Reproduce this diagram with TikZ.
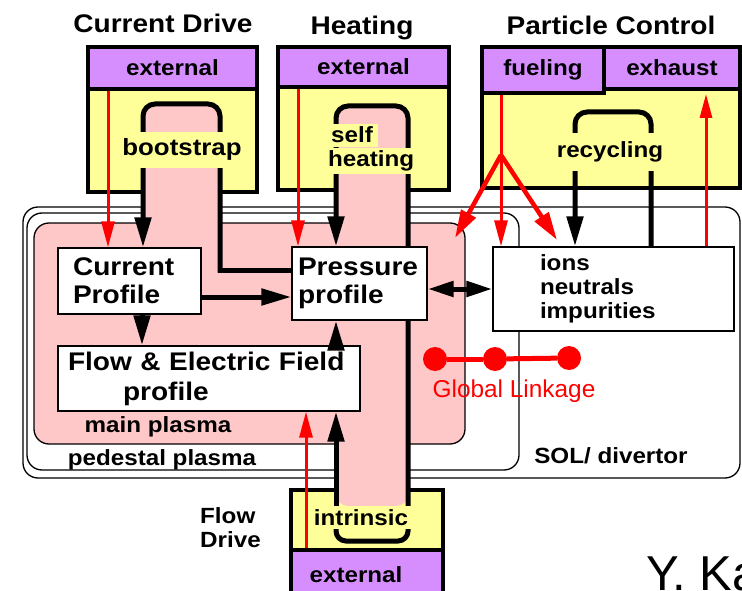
\documentclass[tikz,border=0pt]{standalone}
\usepackage{fontspec}
\setmainfont{Liberation Sans}
\newfontfamily\hbf{Liberation Sans}[FakeStretch=1.1]
\usetikzlibrary{arrows.meta}
\pgfdeclarelayer{back}\pgfdeclarelayer{chan}\pgfdeclarelayer{labs}
\pgfsetlayers{back,chan,labs,main}
\definecolor{cpurple}{RGB}{214,142,255}
\definecolor{cyellow}{RGB}{255,255,153}
\definecolor{cpink}{RGB}{255,200,200}
\definecolor{cred}{RGB}{255,0,0}
\newcommand\tfont{\hbf\bfseries\fontsize{25.5}{28}\selectfont}
\newcommand\lfont{\hbf\bfseries\fontsize{22}{24}\selectfont}
\begin{document}
\begin{tikzpicture}[x=1pt,y=-1pt,
  region/.style={draw, line width=1.3pt, rounded corners=15pt},
  ctrl/.style={draw, line width=3.5pt, fill=cyellow, rectangle, inner sep=0pt},
  ext/.style={draw, line width=3.5pt, fill=cpurple, rectangle, inner sep=0pt, font=\lfont},
  pbox/.style={draw, line width=1.3pt, fill=white, font=\tfont, align=left, rectangle},
  chan/.style={line width=5pt, draw=black},
  btip/.tip={Triangle[length=30pt,width=16pt]},
  rtip/.tip={Triangle[length=26pt,width=13pt]},
  rline/.style={draw=cred, line width=3pt},
  ylab/.style={fill=cyellow, font=\lfont, inner sep=2pt, text height=17pt, text depth=5pt},
  plain/.style={font=\lfont, inner sep=0pt}]
\useasboundingbox (0,0) rectangle (742,591);

% coordinates
\coordinate (xcdL) at (143,0);
\coordinate (xcdR) at (220,0);
\coordinate (xhL) at (336,0);
\coordinate (xhR) at (408,0);
\coordinate (xrL) at (575,0);
\coordinate (xrR) at (651,0);
\coordinate (xrd) at (108,0);
\coordinate (xrh) at (298,0);
\coordinate (xrb) at (306,0);
\coordinate (xfu) at (501,0);
\coordinate (xex) at (706,0);
\coordinate (xcf) at (142,0);
\coordinate (ycd) at (0,270);
\coordinate (ycp) at (0,297);
\coordinate (yio) at (0,289);
\coordinate (fork) at (501,155);
\coordinate (fuM) at (455,238);
\coordinate (fuS) at (557,240);
\coordinate (exT) at (706,94);

% content boxes
\node[pbox, text width=113pt, inner xsep=15pt, minimum height=66pt] (CP) at (129.5,281) {Current\\Profile};
\node[pbox, text width=123pt, inner xsep=6pt, minimum height=73pt] (PP) at (359.5,283.5) {Pressure\\profile};
\node[pbox, text width=282pt, inner xsep=10pt, minimum height=65pt,
      font=\hbf\bfseries\fontsize{25.5}{30}\selectfont] (FE) at (209,378.5) {Flow \& Electric Field\\\hspace*{55pt}profile};
\node[pbox, text width=147pt, inner xsep=47pt, minimum height=84pt, font=\lfont] (IO) at (613.5,289) {ions\\neutrals\\impurities};

% titles
\node[font=\tfont, anchor=base, inner sep=0pt] (tCD) at (163,33) {Current Drive};
\node[font=\tfont, anchor=base, inner sep=0pt] (tH) at (362,35) {Heating};
\node[font=\tfont, anchor=base, inner sep=0pt] (tPC) at (611,35) {Particle Control};

\begin{pgfonlayer}{back}
  \draw[region, fill=white] (23,207) rectangle (740,478);
  \draw[region, fill=white] (27,213) rectangle (519,470);
  \draw[region, fill=cpink] (34,223) rectangle (465,444);
  \node[ctrl, minimum width=169pt, minimum height=145pt] (cCD) at (172.5,119.5) {};
  \node[ext, minimum width=169pt, minimum height=42pt] (eCD) at (172.5,68) {external};
  \node[ctrl, minimum width=171pt, minimum height=143pt] (cH) at (363.5,118.5) {};
  \node[ext, minimum width=171pt, minimum height=40pt] (eH) at (363.5,67) {external};
  \node[ctrl, minimum width=258pt, minimum height=141pt] (cPC) at (611,117.5) {};
  \node[ext, minimum width=136pt, minimum height=42pt] (eEx) at (672,68) {exhaust};
  \node[ext, minimum width=122pt, minimum height=46pt] (eFu) at (543,70) {fueling};
  \node[ctrl, minimum width=152pt, minimum height=60pt] (cB) at (367,520) {};
  \node[ext, minimum width=152pt, minimum height=50pt] (eB) at (367,575) {\hspace*{-22pt}external};
  \fill[cpink, rounded corners=12pt] (143,236) -- (143,104) -- (220,104) -- (220,236) -- cycle;
  \fill[cpink, rounded corners=12pt] (336,506) -- (336,106) -- (408,106) -- (408,506) -- cycle;
\end{pgfonlayer}

\begin{pgfonlayer}{chan}
  % current drive loop
  \draw[chan, {btip}-, rounded corners=12pt] (CP.north -| xcdL) -- (143,104) -- (220,104) -- (220,272.5);
  \draw[chan] (217.5,270) -- (PP.west |- ycd);
  % heating / intrinsic loop
  \draw[chan, {btip}-, rounded corners=12pt] (PP.north -| xhL) -- (336,106) -- (408,106) -- (408,506);
  \draw[chan, -{btip}] (336,506) -- (FE.south -| xhL);
  % recycling loop
  \draw[chan, {btip}-, rounded corners=12pt] (IO.north -| xrL) -- (575,112) -- (651,112) -- (IO.north -| xrR);
  % red arrows
  \draw[rline, -{rtip}] (eCD.south -| xrd) -- (CP.north -| xrd);
  \draw[rline, -{rtip}] (eH.south -| xrh) -- (PP.north -| xrh);
  \draw[rline, -{rtip}] (eB.north -| xrb) -- (FE.south -| xrb);
  \draw[rline] (eFu.south -| xfu) -- (fork);
  \draw[rline, -{rtip}] (fork) -- (IO.north -| xfu);
  \draw[rline, line width=4.5pt, -{Triangle[length=28pt,width=16pt]}] (fork) -- (fuM);
  \draw[rline, line width=4.5pt, -{Triangle[length=28pt,width=16pt]}] (fork) -- (fuS);
  \draw[rline, -{Triangle[length=24pt,width=12pt]}] (IO.north -| xex) -- (exT);
\end{pgfonlayer}

\begin{pgfonlayer}{labs}
  \node[ylab, font=\hbf\bfseries\fontsize{23.5}{26}\selectfont, inner xsep=3pt, inner ysep=7pt, anchor=base] (lbs) at (182,156) {bootstrap};
  \node[ylab, text depth=2pt, inner xsep=5pt, anchor=base west] (lself) at (326,143) {self};
  \node[ylab, anchor=base west] (lheat) at (326,167) {heating};
  \node[ylab, inner ysep=8pt, anchor=base] (lrec) at (610,158) {recycling};
  \node[ylab, text depth=3pt, inner xsep=4pt, anchor=base] (lin) at (361,525) {intrinsic};
\end{pgfonlayer}

% arrows between boxes
\draw[chan, -{btip}] (CP.east |- ycp) -- (PP.west |- ycp);
\draw[chan, -{btip}] (CP.south -| xcf) -- (FE.north -| xcf);
\draw[chan, -{btip}] (FE.north -| xhL) -- (PP.south -| xhL);
\draw[chan, {Triangle[length=26pt,width=15pt]}-{Triangle[length=26pt,width=15pt]}] (PP.east |- yio) -- (IO.west |- yio);
\draw[line width=5pt, rounded corners=10pt] (336,529) -- (336,541) -- (408,541) -- (408,529);

% global linkage
\node[circle, fill=cred, minimum size=24pt, inner sep=0pt] (g1) at (435,359) {};
\node[circle, fill=cred, minimum size=24pt, inner sep=0pt] (g2) at (495,359) {};
\node[circle, fill=cred, minimum size=24pt, inner sep=0pt] (g3) at (569,358) {};
\draw[cred, line width=5pt] (g1) -- (g2);
\draw[cred, line width=5pt] (g2) -- (g3);
\node[font=\fontsize{24.4}{26}\selectfont, text=cred, anchor=base, inner sep=0pt] (gl) at (514,397) {Global Linkage};

% region labels
\node[plain, anchor=base] (lmp) at (158,432) {main plasma};
\node[plain, anchor=base] (lpp) at (162,465) {pedestal plasma};
\node[plain, anchor=base] (lsol) at (611,463) {SOL/ divertor};
\node[plain, align=left, anchor=west] (lfd) at (200,528) {Flow\\Drive};
\node[font=\fontsize{49}{52}\selectfont, anchor=base west, inner sep=0pt] (yk) at (646,590) {Y. Ka};
\end{tikzpicture}
\end{document}
